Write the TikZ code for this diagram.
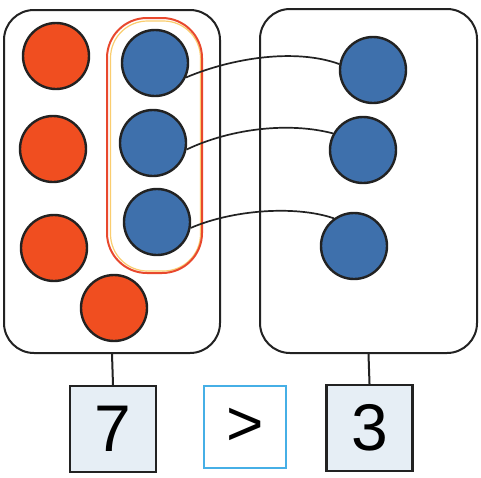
\documentclass[tikz,border=0pt]{standalone}
\usepackage{fontspec}
\setmainfont{Liberation Sans}
\definecolor{dotred}{RGB}{240,78,32}
\definecolor{dotblue}{RGB}{62,112,172}
\definecolor{edge}{RGB}{34,34,34}
\definecolor{rim}{RGB}{232,72,45}
\definecolor{rimin}{RGB}{250,205,110}
\definecolor{numfill}{RGB}{230,238,245}
\definecolor{signline}{RGB}{70,175,230}
\begin{document}
\begin{tikzpicture}[x=1pt,y=-1pt,
  dot/.style={circle,draw=edge,line width=2.4pt,minimum size=66pt,inner sep=0pt},
  rdot/.style={dot,fill=dotred},
  bdot/.style={dot,fill=dotblue},
  setbox/.style={rectangle,draw=edge,line width=2pt,rounded corners=30pt,minimum width=216pt,minimum height=343pt,inner sep=0pt},
  numbox/.style={rectangle,draw=edge,line width=2.2pt,fill=numfill,minimum width=86pt,minimum height=86pt,inner sep=0pt,font=\fontsize{66}{66}\selectfont},
  signbox/.style={rectangle,draw=signline,line width=2.2pt,fill=white,minimum width=82pt,minimum height=82pt,inner sep=0pt,font=\fontsize{64}{64}\selectfont},
  link/.style={draw=edge,line width=1.7pt},
  stem/.style={draw=edge,line width=2pt}]
\useasboundingbox (0,0) rectangle (481,477);
\fill[white] (0,0) rectangle (481,477);
% set boxes
\node[setbox] (lbox) at (112,181.5) {};
\node[setbox,minimum width=217pt,minimum height=344pt] (rbox) at (368.5,181) {};
% group rim
\node[rectangle,draw=rimin,line width=1.2pt,rounded corners=37pt,minimum width=90pt,minimum height=250pt] (rimi) at (155.5,146) {};
\node[rectangle,draw=rim,line width=2pt,rounded corners=40pt,minimum width=95pt,minimum height=255pt] (grp) at (154.5,145.5) {};
% red dots
\node[rdot] (r1) at (56,56) {};
\node[rdot] (r2) at (53,149) {};
\node[rdot] (r3) at (54,248) {};
\node[rdot] (r4) at (114,308) {};
% blue dots left
\node[bdot] (b1) at (155,63) {};
\node[bdot] (b2) at (153,143) {};
\node[bdot] (b3) at (157,222) {};
% blue dots right
\node[bdot] (c1) at (373,70) {};
\node[bdot] (c2) at (363,150) {};
\node[bdot] (c3) at (354,246) {};
% links
\draw[link] (b1.-25) .. controls (232,58) and (295,48) .. (c1.170);
\draw[link] (b2.-11) .. controls (232,128) and (290,122) .. (c2.151);
\draw[link] (b3.-10) .. controls (232,210) and (295,205) .. (c3.126);
% number boxes
\node[numbox] (n7) at (113,429) {7};
\node[signbox] (sg) at (245,427) {>};
\node[numbox] (n3) at (369.5,428) {3};
\draw[stem] (lbox.south) -- (n7.north);
\draw[stem] (rbox.south) -- (n3.north);
\end{tikzpicture}
\end{document}
